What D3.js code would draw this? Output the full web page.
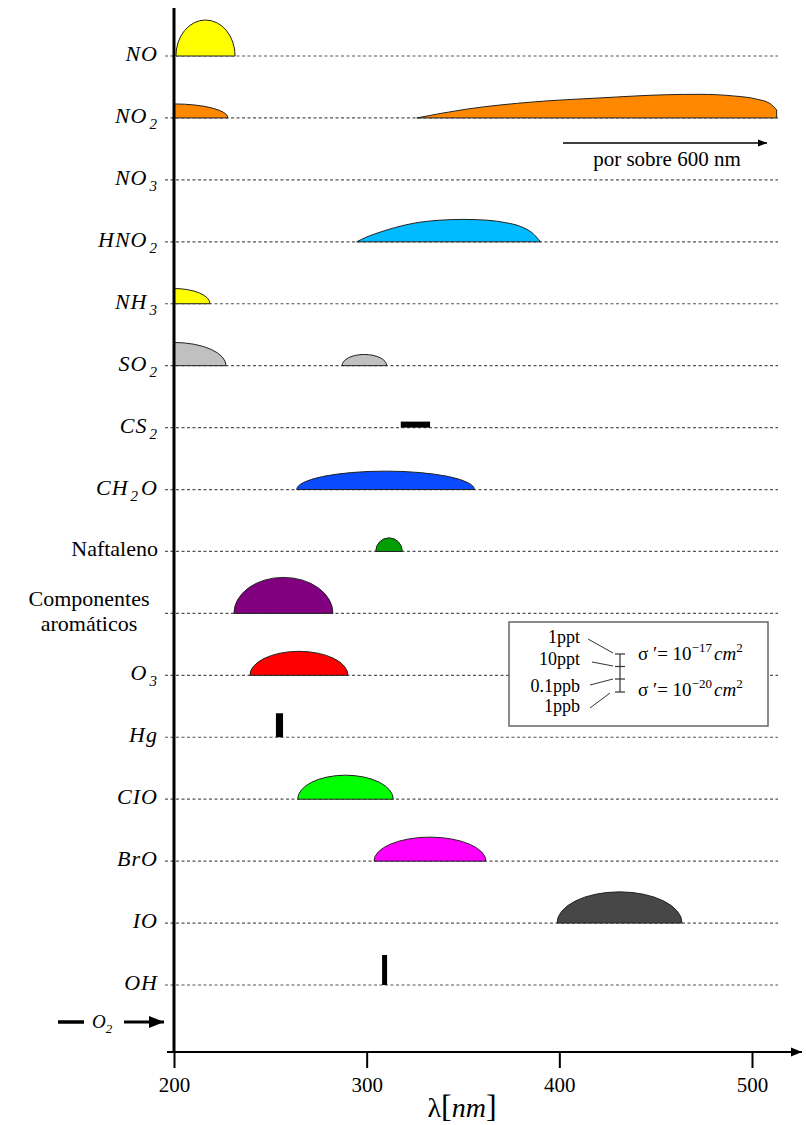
<!DOCTYPE html>
<html>
<head>
<meta charset="utf-8">
<script src="https://cdnjs.cloudflare.com/ajax/libs/d3/7.8.5/d3.min.js"></script>
<style>
  body { margin: 0; background: #fff; }
  svg text { font-family: "Liberation Serif", "Times New Roman", Tinos, "DejaVu Serif", serif; fill: #000; }
</style>
</head>
<body>
<div id="chart"></div>
<script>
// rows (top to bottom) and their labels, "_" marks a subscript, "|" a line break
var species = ["NO", "NO2", "NO3", "HNO2", "NH3", "SO2", "CS2", "CH2O", "Naftaleno",
               "Aromaticos", "O3", "Hg", "ClO", "BrO", "IO", "OH"];
var labels = ["NO", "NO_2", "NO_3", "HNO_2", "NH_3", "SO_2", "CS_2", "CH_2O", "Naftaleno",
              "Componentes|aromáticos", "O_3", "Hg", "CIO", "BrO", "IO", "OH"];
var plainLabels = ["Naftaleno", "Aromaticos"];

var xTicks = [200, 300, 400, 500];

// absorption bands, wavelength in nm, peak in relative units
var domes = [
  { row: "NO",         from: 201.0, to: 231.7, peak: 0.90 },
  { row: "SO2",        from: 287.2, to: 310.4, peak: 0.28 },
  { row: "CH2O",       from: 263.7, to: 355.9, peak: 0.46 },
  { row: "Naftaleno",  from: 304.7, to: 318.5, peak: 0.34 },
  { row: "Aromaticos", from: 231.1, to: 282.5, peak: 0.90 },
  { row: "O3",         from: 239.4, to: 290.3, peak: 0.60 },
  { row: "ClO",        from: 264.2, to: 313.8, peak: 0.60 },
  { row: "BrO",        from: 303.8, to: 361.9, peak: 0.60 },
  { row: "IO",         from: 398.8, to: 463.7, peak: 0.78 }
];
// bands that start at the left edge and fall off
var edges = [
  { row: "NO2", from: 200, to: 228.0, peak: 0.35 },
  { row: "NH3", from: 200, to: 218.7, peak: 0.38 },
  { row: "SO2", from: 200, to: 227.0, peak: 0.58 }
];
// narrow lines
var lines = [
  { row: "CS2", from: 317.7, to: 332.9, peak: 0.15 },
  { row: "Hg",  from: 252.9, to: 256.6, peak: 0.60 },
  { row: "OH",  from: 308.0, to: 310.6, peak: 0.75 }
];
// irregular bands, [nm, relative value]
var no2Band = [[326.0, 0], [351.9, 0.22], [386.5, 0.40], [421.1, 0.50], [455.7, 0.58],
               [473.0, 0.59], [490.3, 0.55], [502.4, 0.47], [509.3, 0.36], [512.8, 0.20]];
var hno2Band = [[294.8, 0], [300.0, 0.12], [306.9, 0.24], [315.0, 0.36], [324.0, 0.46],
                [338.0, 0.54], [350.0, 0.56], [362.5, 0.54], [372.0, 0.48], [380.0, 0.38],
                [386.0, 0.22], [390.3, 0]];

var legendLabels = ["1ppt", "10ppt", "0.1ppb", "1ppb"];
var sigmaExp = ["−17", "−20"];

var colors = {
  NO: "#ffff00", NO2: "#ff8800", HNO2: "#00bbff", NH3: "#ffff00", SO2: "#c0c0c0",
  CS2: "#000", CH2O: "#0a4bff", Naftaleno: "#009e00", Aromaticos: "#800080",
  O3: "#ff0000", Hg: "#000", ClO: "#00ff00", BrO: "#ff00ff", IO: "#474747", OH: "#000"
};

var width = 806, height = 1125;

var x = d3.scaleLinear().domain([200, 500]).range([174, 752]);
var y = d3.scalePoint().domain(species).range([56, 985]);
var h = d3.scaleLinear().domain([0, 1]).range([0, 40]);

var svg = d3.select("#chart").append("svg")
  .attr("width", width)
  .attr("height", height);

var defs = svg.append("defs");
defs.append("marker")
  .attr("id", "head")
  .attr("viewBox", "0 0 10 10")
  .attr("refX", 10).attr("refY", 5)
  .attr("markerWidth", 5).attr("markerHeight", 5)
  .attr("markerUnits", "strokeWidth")
  .attr("orient", "auto")
  .append("path").attr("d", "M0,1 L10,5 L0,9 Z").attr("fill", "#000");
defs.append("marker")
  .attr("id", "headThin")
  .attr("viewBox", "0 0 10 10")
  .attr("refX", 10).attr("refY", 5)
  .attr("markerWidth", 11).attr("markerHeight", 9)
  .attr("markerUnits", "userSpaceOnUse")
  .attr("orient", "auto")
  .append("path").attr("d", "M0,1 L10,5 L0,9 Z").attr("fill", "#000");

// dashed row lines
svg.append("g").selectAll("line")
  .data(species)
  .enter().append("line")
    .attr("x1", 165).attr("x2", 778)
    .attr("y1", function(d) { return y(d); })
    .attr("y2", function(d) { return y(d); })
    .attr("stroke", "#555")
    .attr("stroke-width", 1.2)
    .attr("stroke-dasharray", "3,2.5");

// row labels
var lab = svg.append("g");
species.forEach(function(s, i) {
  var yy = y(s);
  var txt = labels[i];
  if (txt.indexOf("|") >= 0) {
    txt.split("|").forEach(function(part, j) {
      lab.append("text")
        .attr("x", 89).attr("y", yy - 7 + j * 25)
        .attr("text-anchor", "middle")
        .style("font-size", "22px")
        .text(part);
    });
    return;
  }
  var t = lab.append("text")
    .attr("x", 158).attr("y", yy + 5)
    .attr("text-anchor", "end")
    .style("font-size", "22px");
  if (plainLabels.indexOf(s) < 0) {
    t.style("font-style", "italic").style("letter-spacing", "1px");
  }
  var shift = 0;
  for (var k = 0; k < txt.length; k++) {
    if (txt[k] === "_") {
      t.append("tspan").attr("dy", 6).attr("dx", 2).style("font-size", "15px").text(txt[k + 1]);
      shift = 6;
      k++;
    } else {
      var run = "";
      while (k < txt.length && txt[k] !== "_") { run += txt[k]; k++; }
      k--;
      t.append("tspan").attr("dy", -shift).attr("dx", shift ? 2 : 0).text(run);
      shift = 0;
    }
  }
});

// bands
var bands = svg.append("g").attr("stroke", "#222").attr("stroke-width", 1);

bands.selectAll(".dome")
  .data(domes)
  .enter().append("path")
    .attr("class", "dome")
    .attr("fill", function(d) { return colors[d.row]; })
    .attr("d", function(d) {
      var x0 = x(d.from), x1 = x(d.to), yb = y(d.row);
      var rx = (x1 - x0) / 2, ry = h(d.peak);
      return "M" + x0 + "," + yb + " A" + rx + "," + ry + " 0 0 1 " + x1 + "," + yb + " Z";
    });

bands.selectAll(".edge")
  .data(edges)
  .enter().append("path")
    .attr("class", "edge")
    .attr("fill", function(d) { return colors[d.row]; })
    .attr("d", function(d) {
      var x0 = x(d.from), x1 = x(d.to), yb = y(d.row);
      var rx = x1 - x0, ry = h(d.peak);
      return "M" + x0 + "," + yb + " L" + x0 + "," + (yb - ry) +
             " A" + rx + "," + ry + " 0 0 1 " + x1 + "," + yb + " Z";
    });

var area = function(row) {
  return d3.area()
    .x(function(d) { return x(d[0]); })
    .y0(y(row))
    .y1(function(d) { return y(row) - h(d[1]); })
    .curve(d3.curveMonotoneX);
};
bands.append("path").attr("fill", colors.NO2).attr("d", area("NO2")(no2Band));
bands.append("path").attr("fill", colors.HNO2).attr("d", area("HNO2")(hno2Band));

svg.append("g").selectAll("rect")
  .data(lines)
  .enter().append("rect")
    .attr("x", function(d) { return x(d.from); })
    .attr("width", function(d) { return x(d.to) - x(d.from); })
    .attr("y", function(d) { return y(d.row) - h(d.peak); })
    .attr("height", function(d) { return h(d.peak); })
    .attr("fill", function(d) { return colors[d.row]; });

// "por sobre 600 nm" note
svg.append("line")
  .attr("x1", 563).attr("x2", 767).attr("y1", 143).attr("y2", 143)
  .attr("stroke", "#000").attr("stroke-width", 1.3)
  .attr("marker-end", "url(#headThin)");
svg.append("text")
  .attr("x", 667).attr("y", 166)
  .attr("text-anchor", "middle")
  .style("font-size", "21px")
  .text("por sobre 600 nm");

// legend box
var lg = svg.append("g").attr("transform", "translate(509,622)");
lg.append("rect")
  .attr("width", 259).attr("height", 104)
  .attr("fill", "#fff").attr("stroke", "#666").attr("stroke-width", 1.5);
var legY = [21, 43, 70, 90];
lg.selectAll(".ll")
  .data(legendLabels)
  .enter().append("text")
    .attr("class", "ll")
    .attr("x", 71).attr("y", function(d, i) { return legY[i]; })
    .attr("text-anchor", "end")
    .style("font-size", "18px")
    .text(function(d) { return d; });
var tickY = [32, 44.5, 57, 70];
lg.append("line").attr("x1", 111).attr("x2", 111).attr("y1", tickY[0]).attr("y2", tickY[3])
  .attr("stroke", "#333").attr("stroke-width", 1.2);
lg.selectAll(".tk")
  .data(tickY)
  .enter().append("line")
    .attr("x1", 106).attr("x2", 116)
    .attr("y1", function(d) { return d; }).attr("y2", function(d) { return d; })
    .attr("stroke", "#333").attr("stroke-width", 1.2);
var leaders = [[79, 17, 104, 31], [83, 40, 104, 44], [81, 63, 104, 57], [81, 86, 101, 71]];
lg.selectAll(".ld")
  .data(leaders)
  .enter().append("line")
    .attr("x1", function(d) { return d[0]; }).attr("y1", function(d) { return d[1]; })
    .attr("x2", function(d) { return d[2]; }).attr("y2", function(d) { return d[3]; })
    .attr("stroke", "#333").attr("stroke-width", 1);
sigmaExp.forEach(function(e, i) {
  var t = lg.append("text")
    .attr("x", 129).attr("y", [38, 74][i])
    .style("font-size", "19px");
  t.append("tspan").text("σ ′= 10");
  t.append("tspan").attr("dy", -8).style("font-size", "13px").text(e);
  t.append("tspan").attr("dy", 8).attr("dx", 2).style("font-style", "italic").text("cm");
  t.append("tspan").attr("dy", -8).style("font-size", "13px").text("2");
});

// axes
svg.append("line")
  .attr("x1", 174).attr("x2", 174).attr("y1", 8).attr("y2", 1053)
  .attr("stroke", "#000").attr("stroke-width", 3);
svg.append("line")
  .attr("x1", 167).attr("x2", 802).attr("y1", 1052).attr("y2", 1052)
  .attr("stroke", "#000").attr("stroke-width", 2.2)
  .attr("marker-end", "url(#head)");

var xAxis = svg.append("g")
  .attr("transform", "translate(0,1052)")
  .call(d3.axisBottom(x).tickValues(xTicks).tickSize(16).tickPadding(9));
xAxis.attr("font-family", null);
xAxis.select(".domain").remove();
xAxis.selectAll(".tick line").attr("stroke", "#000").attr("stroke-width", 2);
xAxis.selectAll(".tick text")
  .style("font-size", "21px")
  .attr("fill", "#000");

var xl = svg.append("text")
  .attr("x", 462).attr("y", 1117)
  .attr("text-anchor", "middle")
  .style("font-size", "28px");
xl.append("tspan").text("λ");
xl.append("tspan").style("font-size", "32px").text("[");
xl.append("tspan").style("font-style", "italic").text("nm");
xl.append("tspan").style("font-size", "32px").text("]");

// O2 marker at the bottom
svg.append("line")
  .attr("x1", 58).attr("x2", 84).attr("y1", 1022).attr("y2", 1022)
  .attr("stroke", "#000").attr("stroke-width", 3.5);
var o2 = svg.append("text")
  .attr("x", 92).attr("y", 1028)
  .style("font-size", "19px").style("font-style", "italic");
o2.append("tspan").text("O");
o2.append("tspan").attr("dy", 5).style("font-size", "13px").text("2");
svg.append("line")
  .attr("x1", 124).attr("x2", 164).attr("y1", 1022).attr("y2", 1022)
  .attr("stroke", "#000").attr("stroke-width", 3)
  .attr("marker-end", "url(#head)");
</script>
</body>
</html>
